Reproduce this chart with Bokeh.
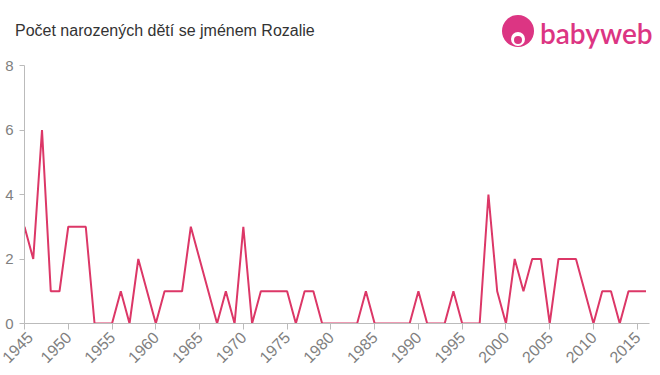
import math
from bokeh.plotting import figure
from bokeh.models import FixedTicker, Range1d, Div
from bokeh.layouts import column
from bokeh.embed import file_html
from bokeh.resources import INLINE

years = list(range(1945, 2017))
counts = [3, 2, 6, 1, 1, 3, 3, 3, 0, 0,
          0, 1, 0, 2, 1, 0, 1, 1, 1, 3,
          2, 1, 0, 1, 0, 3, 0, 1, 1, 1,
          1, 0, 1, 1, 0, 0, 0, 0, 0, 1,
          0, 0, 0, 0, 0, 1, 0, 0, 0, 1,
          0, 0, 0, 4, 1, 0, 2, 1, 2, 2,
          0, 2, 2, 2, 1, 0, 1, 1, 0, 1,
          1, 1]
x_ticks = [1945, 1950, 1955, 1960, 1965, 1970, 1975, 1980, 1985, 1990, 1995, 2000, 2005, 2010, 2015]
y_ticks = [0, 2, 4, 6, 8]
title_text = "Počet narozených dětí se jménem Rozalie"
logo_text = "babyweb"

pink = "#dc3583"
header_html = (
    '<div style="position:relative;width:660px;height:48px;">'
    '<span style="position:absolute;left:15px;top:21px;font-family:\'Liberation Sans\',Arial,sans-serif;'
    'font-size:16px;line-height:20px;color:#333333;white-space:nowrap;">' + title_text + '</span>'
    '<div style="position:absolute;left:502px;top:15px;width:32px;height:32px;border-radius:50%;'
    'background:' + pink + ';overflow:hidden;">'
    '<div style="position:absolute;left:9px;top:17px;width:14px;height:14px;border-radius:50%;background:white;"></div>'
    '<div style="position:absolute;left:12px;top:21px;width:8px;height:8px;border-radius:50%;background:' + pink + ';"></div>'
    '</div>'
    '<span style="position:absolute;left:540px;top:16px;font-family:Lato,sans-serif;font-size:28px;'
    'font-weight:600;line-height:34px;color:' + pink + ';white-space:nowrap;">' + logo_text + '</span>'
    '</div>'
)
header = Div(text=header_html, width=660, height=48, margin=(0, 0, 0, 0))

p = figure(width=660, height=327, output_backend="svg", toolbar_location=None,
           x_range=Range1d(1945, 2016.4), y_range=Range1d(0, 8),
           min_border_left=24, min_border_right=11, min_border_top=17, min_border_bottom=52,
           margin=(0, 0, 0, 0))
p.outline_line_color = None
p.grid.visible = False
p.background_fill_color = "white"
p.border_fill_color = "white"

p.line(years, counts, line_color="#dc3767", line_width=2)

axis_col = "#bbbbbb"
lab_col = "#808080"
for ax in (p.xaxis, p.yaxis):
    ax.axis_line_color = axis_col
    ax.major_tick_line_color = axis_col
    ax.minor_tick_line_color = None
    ax.major_tick_in = 0
    ax.major_label_text_color = lab_col
    ax.major_label_text_font = "Liberation Sans"

p.xaxis.major_tick_out = 6
p.yaxis.major_tick_out = 5
p.xaxis.ticker = FixedTicker(ticks=x_ticks)
p.yaxis.ticker = FixedTicker(ticks=y_ticks)
p.xaxis.major_label_orientation = math.pi / 4
p.xaxis.major_label_text_font_size = "16px"
p.yaxis.major_label_text_font_size = "15px"
p.yaxis.major_label_standoff = 6
p.xaxis.major_label_standoff = 5

layout = column(header, p, spacing=0, margin=(0, 0, 0, 0))
open("out.html", "w").write(file_html(layout, INLINE))
